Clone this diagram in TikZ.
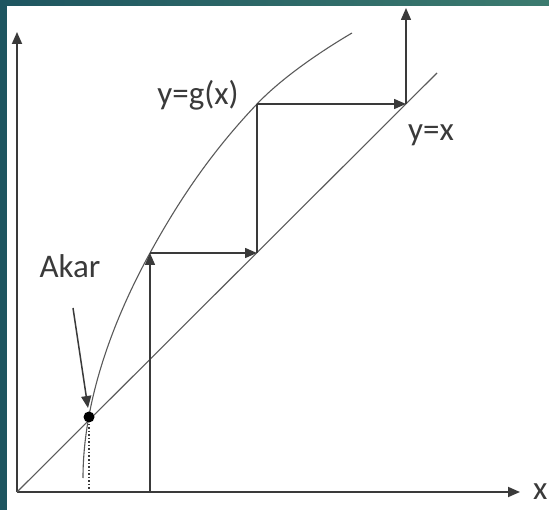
\documentclass[tikz,border=0pt]{standalone}
\usepackage{fontspec}
\setmainfont{Carlito}
\usetikzlibrary{arrows.meta}
\definecolor{tealA}{HTML}{1E5560}
\definecolor{tealB}{HTML}{3C7B6F}
\definecolor{ink}{HTML}{3A3A3A}
\definecolor{curvecol}{HTML}{5A5A5A}
\begin{document}
\begin{tikzpicture}[x=1pt,y=-1pt,
  tip/.style={-{Triangle[length=12pt,width=10pt]}},
  axis/.style={draw=ink,line width=1.8pt,tip},
  stepline/.style={draw=ink,line width=1.5pt},
  steparrow/.style={stepline,tip},
  thinline/.style={draw=curvecol,line width=1.1pt},
  lbl/.style={text=ink,font=\fontsize{33}{40}\selectfont,inner sep=0pt}]
\useasboundingbox (0,0) rectangle (549,510);
\shade[left color=tealA,right color=tealB] (0,0) rectangle (549,510);
\fill[white] (7,6) rectangle (549,510);

\coordinate (O) at (17,492);
\coordinate (ytop) at (17,32);
\coordinate (xend) at (520,492);
\coordinate (dend) at (437,73);
\coordinate (P0) at (150,492);
\coordinate (P1) at (150,253);
\coordinate (Q1) at (257,253);
\coordinate (P2) at (257,104);
\coordinate (Q2) at (406,104);
\coordinate (Top) at (406,8);
\coordinate (root) at (89,417);
\coordinate (rootax) at (89,492);
\coordinate (akarfrom) at (73,308);
\coordinate (akarto) at (88,408);
\coordinate (gstart) at (83,478);
\coordinate (gend) at (352,33);

% axes
\draw[axis] (O) -- (ytop);
\draw[axis] (O) -- (xend);
\node[lbl,anchor=west] (xl) at (533,492) {x};

% y = x
\draw[thinline] (O) -- (dend);

% g(x)
\draw[thinline] (gstart) .. controls (83,403) and (111.5,323) .. (P1)
  .. controls (177.5,203) and (209.5,154) .. (P2)
  .. controls (280.75,79) and (318,53) .. (gend);

% staircase
\draw[steparrow] (P0) -- (P1);
\draw[steparrow] (P1) -- (Q1);
\draw[stepline] (Q1) -- (P2);
\draw[steparrow] (P2) -- (Q2);
\draw[steparrow] (Q2) -- (Top);

% root
\draw[draw=ink,line width=1.2pt,dash pattern=on 1.5pt off 2pt] (root) -- (rootax);
\node[circle,fill=black,minimum size=11pt,inner sep=0pt] (dot) at (root) {};
\draw[stepline,tip] (akarfrom) -- (akarto);

% labels
\node[lbl] (akar) at (70,266) {Akar};
\node[lbl] (gl) at (198,95) {y=g(x)};
\node[lbl] (yx) at (431,135) {y=x};
\end{tikzpicture}
\end{document}
